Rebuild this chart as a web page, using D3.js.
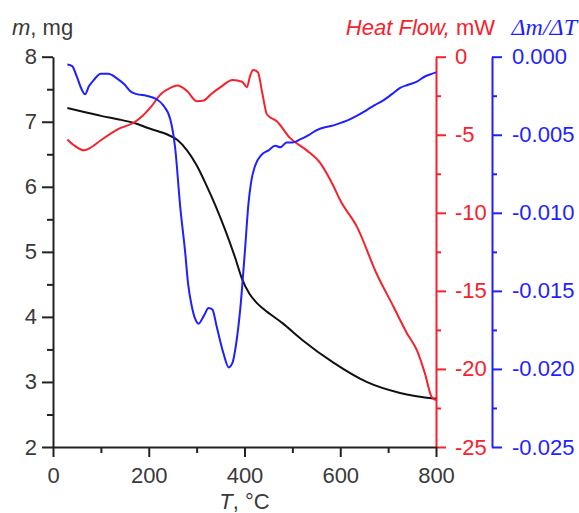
<!DOCTYPE html>
<html>
<head>
<meta charset="utf-8">
<script src="https://cdn.jsdelivr.net/npm/d3@7"></script>
<style>
  body { margin: 0; background: #fff; }
  svg { display: block; font-family: "Liberation Sans", Arial, sans-serif; }
</style>
</head>
<body>
<div id="chart"></div>
<script>
// ---- data ----
const massT = [30, 65, 100, 135, 170, 200, 240, 260, 280, 300, 320, 340, 360, 380, 395, 410, 425, 440, 480, 520, 585, 655, 725, 800];
const massMg = [7.21, 7.15, 7.09, 7.04, 6.98, 6.90, 6.80, 6.72, 6.56, 6.33, 6.03, 5.70, 5.33, 4.92, 4.58, 4.36, 4.22, 4.12, 3.90, 3.65, 3.30, 3.00, 2.83, 2.74];

const heatT = [30, 45, 65, 80, 100, 135, 170, 185, 205, 225, 245, 260, 280, 300, 315, 330, 350, 375, 395, 405, 412, 418, 428, 437, 447, 468, 495, 530, 558, 586, 600, 635, 676, 711, 739, 760, 777, 791, 800];
const heatMW = [-5.3, -5.7, -6.0, -5.8, -5.35, -4.65, -4.2, -3.85, -3.2, -2.4, -2.0, -1.85, -2.2, -2.85, -2.8, -2.4, -1.95, -1.5, -1.6, -1.95, -1.2, -0.85, -1.0, -2.3, -3.7, -4.15, -5.2, -6.0, -6.8, -8.3, -9.2, -10.9, -13.9, -16.0, -17.7, -18.8, -20.3, -21.8, -22.0];

const dtgT = [30, 40, 50, 60, 67, 75, 85, 100, 115, 134, 150, 161, 175, 195, 215, 230, 245, 255, 266, 276, 282, 290, 297, 304, 315, 325, 333, 342, 356, 367, 375, 382, 391, 401, 408, 414, 422, 435, 450, 464, 475, 488, 500, 516, 535, 551, 570, 586, 605, 621, 640, 656, 672, 690, 708, 725, 742, 760, 775, 791, 800];
const dtgVal = [-0.0005, -0.0006, -0.0013, -0.0021, -0.0024, -0.0019, -0.0015, -0.0011, -0.0011, -0.0014, -0.0018, -0.0022, -0.0024, -0.0025, -0.0027, -0.0031, -0.0040, -0.0058, -0.0097, -0.0125, -0.0145, -0.0160, -0.0168, -0.0171, -0.0166, -0.0161, -0.0162, -0.0173, -0.0190, -0.0199, -0.0196, -0.0185, -0.0162, -0.0124, -0.0095, -0.0080, -0.0070, -0.0063, -0.0060, -0.0057, -0.0058, -0.0055, -0.0055, -0.0053, -0.0050, -0.0047, -0.0045, -0.0044, -0.0042, -0.0040, -0.0037, -0.0034, -0.0031, -0.0028, -0.0024, -0.0020, -0.0018, -0.0016, -0.0013, -0.0011, -0.0010];

const xTicks = [0, 200, 400, 600, 800];
const xMinor = [100, 300, 500, 700];
const massTicks = [2, 3, 4, 5, 6, 7, 8];
const massMinor = [2.5, 3.5, 4.5, 5.5, 6.5, 7.5];
const heatTicks = [-25, -20, -15, -10, -5, 0];
const heatMinor = [-22.5, -17.5, -12.5, -7.5, -2.5];
const dtgTicks = [-0.025, -0.02, -0.015, -0.01, -0.005, 0];
const dtgMinor = [-0.0225, -0.0175, -0.0125, -0.0075, -0.0025];

const W = 579, H = 513;
const plotL = 53, plotR = 436, plotT = 56.7, plotB = 447, dtgAxisX = 492;
const RED = "#f5222d", BLUE = "#1f1fff", INK = "#222", TXT = "#3a3a3a";
const FS = "22px";

const svg = d3.select("#chart").append("svg")
    .attr("width", W)
    .attr("height", H);

// scales
const x = d3.scaleLinear().domain([0, 800]).range([plotL, plotR]);
const yMass = d3.scaleLinear().domain([2, 8]).range([plotB, plotT]);
const yHeat = d3.scaleLinear().domain([-25, 0]).range([plotB, plotT]);
const yDtg = d3.scaleLinear().domain([-0.025, 0]).range([plotB, plotT]);

function styleAxis(g, color, textColor) {
    g.select(".domain").attr("stroke", color).attr("stroke-width", 2);
    g.selectAll(".tick line").attr("stroke", color).attr("stroke-width", 2);
    g.selectAll(".tick text")
        .attr("fill", textColor || color)
        .style("font-size", FS)
        .style("font-family", "'Liberation Sans', Arial, sans-serif");
}

function minorTicks(g, color) {
    g.select(".domain").remove();
    g.selectAll("line").attr("stroke", color).attr("stroke-width", 2);
}

// minor ticks (no labels)
svg.append("g")
    .attr("transform", `translate(0,${plotB})`)
    .call(d3.axisBottom(x).tickValues(xMinor).tickSize(6).tickFormat(""))
    .call(g => minorTicks(g, INK));
svg.append("g")
    .attr("transform", `translate(${plotL},0)`)
    .call(d3.axisLeft(yMass).tickValues(massMinor).tickSize(6).tickFormat(""))
    .call(g => minorTicks(g, INK));
svg.append("g")
    .attr("transform", `translate(${plotR},0)`)
    .call(d3.axisRight(yHeat).tickValues(heatMinor).tickSize(5).tickFormat(""))
    .call(g => minorTicks(g, RED));
svg.append("g")
    .attr("transform", `translate(${dtgAxisX},0)`)
    .call(d3.axisRight(yDtg).tickValues(dtgMinor).tickSize(5).tickFormat(""))
    .call(g => minorTicks(g, BLUE));

// main axes
svg.append("g")
    .attr("transform", `translate(${plotR},0)`)
    .call(d3.axisRight(yHeat).tickValues(heatTicks).tickSize(10).tickSizeOuter(0).tickPadding(9).tickFormat(d => String(d)))
    .call(g => styleAxis(g, RED));

svg.append("g")
    .attr("transform", `translate(${dtgAxisX},0)`)
    .call(d3.axisRight(yDtg).tickValues(dtgTicks).tickSize(10).tickSizeOuter(0).tickPadding(10).tickFormat(d => d.toFixed(3)))
    .call(g => styleAxis(g, BLUE));

svg.append("g")
    .attr("transform", `translate(0,${plotB})`)
    .call(d3.axisBottom(x).tickValues(xTicks).tickSize(10).tickSizeOuter(0).tickPadding(10).tickFormat(d => String(d)))
    .call(g => styleAxis(g, INK, TXT));

svg.append("g")
    .attr("transform", `translate(${plotL},0)`)
    .call(d3.axisLeft(yMass).tickValues(massTicks).tickSize(11).tickSizeOuter(0).tickPadding(5).tickFormat(d => String(d)))
    .call(g => styleAxis(g, INK, TXT));

// curves
const lineOf = (xs, ys, yScale) => d3.line()
    .x((d, i) => x(xs[i]))
    .y(d => yScale(d))
    .curve(d3.curveMonotoneX)(ys);

svg.append("path")
    .attr("d", lineOf(massT, massMg, yMass))
    .attr("fill", "none").attr("stroke", "#111").attr("stroke-width", 2);

svg.append("path")
    .attr("d", lineOf(heatT, heatMW, yHeat))
    .attr("fill", "none").attr("stroke", RED).attr("stroke-width", 2);

svg.append("path")
    .attr("d", lineOf(dtgT, dtgVal, yDtg))
    .attr("fill", "none").attr("stroke", BLUE).attr("stroke-width", 2);

// axis titles
const mLabel = svg.append("text")
    .attr("x", 12).attr("y", 35)
    .attr("fill", TXT)
    .style("font-size", FS);
mLabel.append("tspan").style("font-style", "italic").text("m");
mLabel.append("tspan").text(", mg");

const hLabel = svg.append("text")
    .attr("x", 495).attr("y", 35)
    .attr("text-anchor", "end")
    .attr("fill", RED)
    .style("font-size", FS);
hLabel.append("tspan").style("font-style", "italic").text("Heat Flow,");
hLabel.append("tspan").text(" mW");

svg.append("text")
    .attr("x", 577).attr("y", 35)
    .attr("text-anchor", "end")
    .attr("fill", BLUE)
    .style("font-size", "24px")
    .style("font-family", "'Liberation Serif', 'Times New Roman', serif")
    .style("font-style", "italic")
    .text("Δm/ΔT");

const tLabel = svg.append("text")
    .attr("x", x(400)).attr("y", 509)
    .attr("text-anchor", "middle")
    .attr("fill", TXT)
    .style("font-size", FS);
tLabel.append("tspan").style("font-style", "italic").text("T");
tLabel.append("tspan").text(", °C");
</script>
</body>
</html>
